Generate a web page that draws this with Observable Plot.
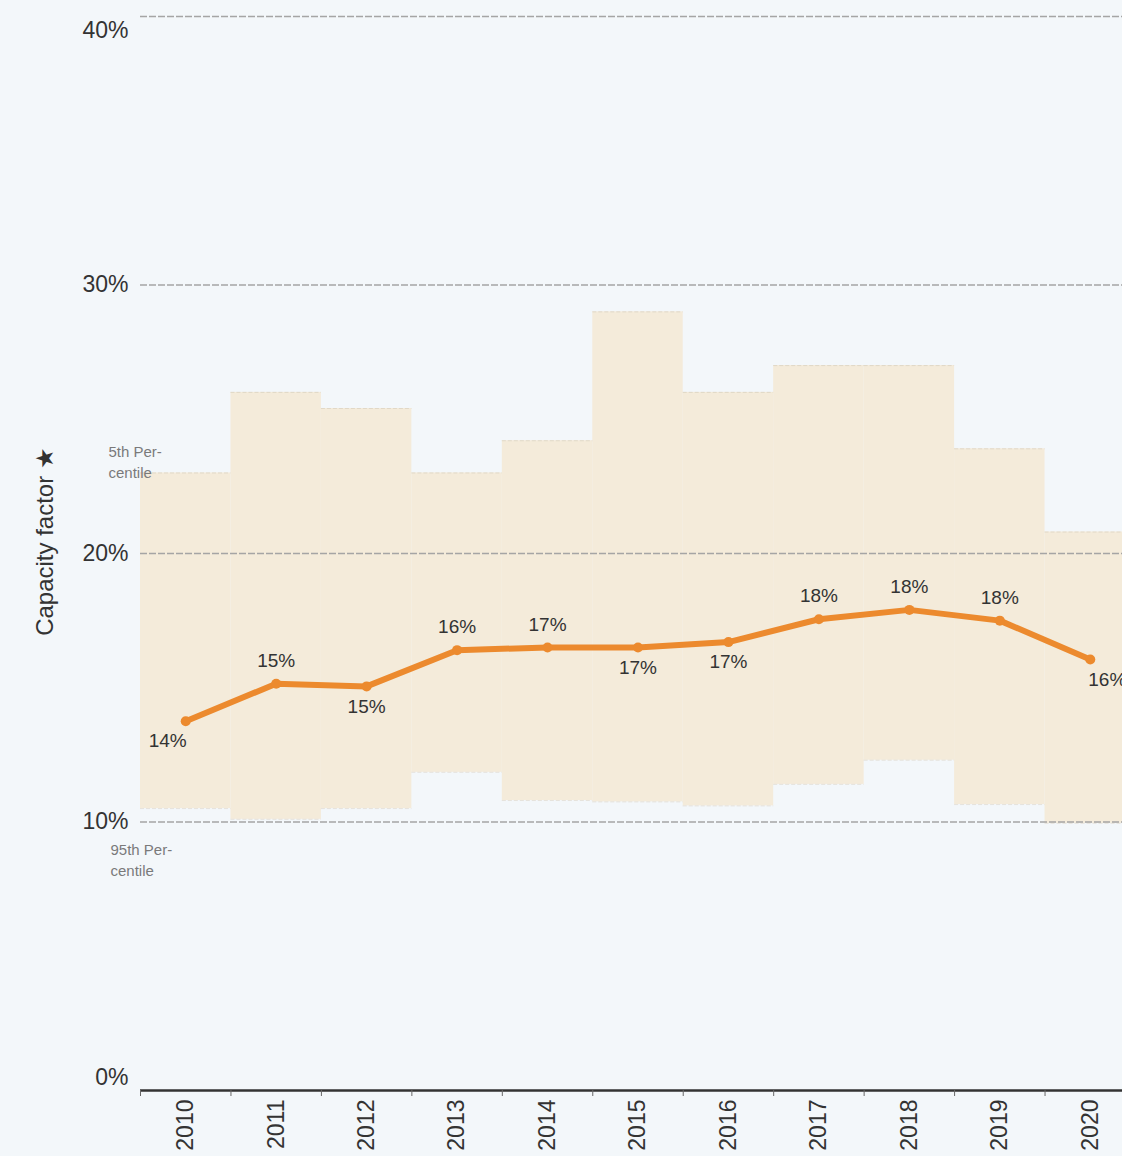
<!DOCTYPE html>
<html>
<head>
<meta charset="utf-8">
<script src="https://cdn.jsdelivr.net/npm/d3@7"></script>
<script src="https://cdn.jsdelivr.net/npm/@observablehq/plot@0.6"></script>
<style>
  html, body { margin: 0; padding: 0; background: #f3f7fa; overflow: hidden; }
  #chart svg { overflow: hidden; }
</style>
</head>
<body>
<div id="chart"></div>
<script>
// ---- data ----
const years = [2010, 2011, 2012, 2013, 2014, 2015, 2016, 2017, 2018, 2019, 2020];
const capacityFactor = [13.75, 15.15, 15.05, 16.4, 16.5, 16.5, 16.7, 17.55, 17.9, 17.5, 16.05];
const pct5 = [23.0, 26.0, 25.4, 23.0, 24.2, 29.0, 26.0, 27.0, 27.0, 23.9, 20.8];
const pct95 = [10.5, 10.1, 10.5, 11.85, 10.8, 10.75, 10.6, 11.4, 12.3, 10.65, 9.95];
const yTicks = [0, 10, 20, 30, 40];
const yTitle = "Capacity factor \u2605";
const upperLabel = "5th Per-\ncentile";
const lowerLabel = "95th Per-\ncentile";

// ---- table ----
const rows = years.map((year, i) => ({year, value: capacityFactor[i], p5: pct5[i], p95: pct95[i]}));
const boundaries = [years[0] - 0.5, ...years.map(y => y + 0.5)];

// label placement (style, not data)
const placement = ["belowLeft", "above", "below", "above", "above", "below", "below", "above", "above", "above", "belowRight"];
const labelRows = rows.map((r, i) => ({...r, place: placement[i]}));

const orange = "#ec8a2e";
const font = "'Liberation Sans', Arial, Helvetica, sans-serif";
const fmt = d => Math.round(d.value) + "%";

const chart = Plot.plot({
  width: 1122,
  height: 1156,
  marginTop: 16,
  marginBottom: 66,
  marginLeft: 140,
  marginRight: 0,
  style: {background: "#f3f7fa", fontFamily: font, color: "#333"},
  x: {domain: [years[0] - 0.5, years[years.length - 1] + 0.5], range: [140, 1135]},
  y: {domain: [0, 40], range: [1090, 16]},
  marks: [
    // percentile band
    Plot.rect(rows, {x1: d => d.year - 0.5, x2: d => d.year + 0.5, y1: "p95", y2: "p5", fill: "#f4ebda"}),
    Plot.ruleY(rows, {y: "p5", x1: d => d.year - 0.5, x2: d => d.year + 0.5, stroke: "#d9d0bf", strokeDasharray: "4,2", strokeOpacity: 0.7}),
    Plot.ruleY(rows, {y: "p95", x1: d => d.year - 0.5, x2: d => d.year + 0.5, stroke: "#d9d0bf", strokeDasharray: "4,2", strokeOpacity: 0.5}),
    // gridlines
    Plot.ruleY(yTicks.filter(t => t > 0), {stroke: "#a5a5a5", strokeWidth: 1.5, strokeDasharray: "7,2"}),
    // y axis labels
    Plot.axisY(yTicks.filter(t => t > 0 && t < 40), {tickSize: 0, tickPadding: 12, tickFormat: d => d + "%", fontSize: 23, fill: "#333", label: null}),
    Plot.axisY([40], {tickSize: 0, tickPadding: 12, tickFormat: d => d + "%", fontSize: 23, fill: "#333", dy: 14, label: null}),
    Plot.axisY([0], {tickSize: 0, tickPadding: 12, tickFormat: d => d + "%", fontSize: 23, fill: "#333", dy: -13, label: null}),
    // y title
    Plot.text([yTitle], {frameAnchor: "left", textAnchor: "middle", dx: -95, dy: -12, rotate: -90, fontSize: 24, fill: "#333"}),
    // band labels
    Plot.text([rows[0]], {x: () => years[0] - 0.5, y: "p5", text: () => upperLabel, textAnchor: "start", dx: -32, dy: -12, fontSize: 15, lineHeight: 1.4, fill: "#7a7a7a"}),
    Plot.text([rows[0]], {x: () => years[0] - 0.5, y: "p95", text: () => lowerLabel, textAnchor: "start", dx: -30, dy: 50, fontSize: 15, lineHeight: 1.4, fill: "#7a7a7a"}),
    // x axis
    Plot.ruleY([0], {stroke: "#333", strokeWidth: 2.5}),
    Plot.axisX(boundaries, {tickSize: 6, tickFormat: () => "", stroke: "#666", label: null}),
    Plot.axisX(years, {tickSize: 0, tickPadding: 9, tickRotate: -90, tickFormat: d => String(d), fontSize: 23, fill: "#333", label: null}),
    // series
    Plot.line(rows, {x: "year", y: "value", stroke: orange, strokeWidth: 6, strokeLinejoin: "round", strokeLinecap: "round"}),
    Plot.dot(rows, {x: "year", y: "value", r: 5, fill: orange}),
    // value labels
    Plot.text(labelRows.filter(d => d.place === "above"), {x: "year", y: "value", text: fmt, dy: -23, fontSize: 19, fill: "#333"}),
    Plot.text(labelRows.filter(d => d.place === "below"), {x: "year", y: "value", text: fmt, dy: 20, fontSize: 19, fill: "#333"}),
    Plot.text(labelRows.filter(d => d.place === "belowLeft"), {x: "year", y: "value", text: fmt, dy: 20, dx: -18, fontSize: 19, fill: "#333"}),
    Plot.text(labelRows.filter(d => d.place === "belowRight"), {x: "year", y: "value", text: fmt, dy: 20, dx: 17, fontSize: 19, fill: "#333"})
  ]
});
document.getElementById("chart").appendChild(chart);
</script>
</body>
</html>
